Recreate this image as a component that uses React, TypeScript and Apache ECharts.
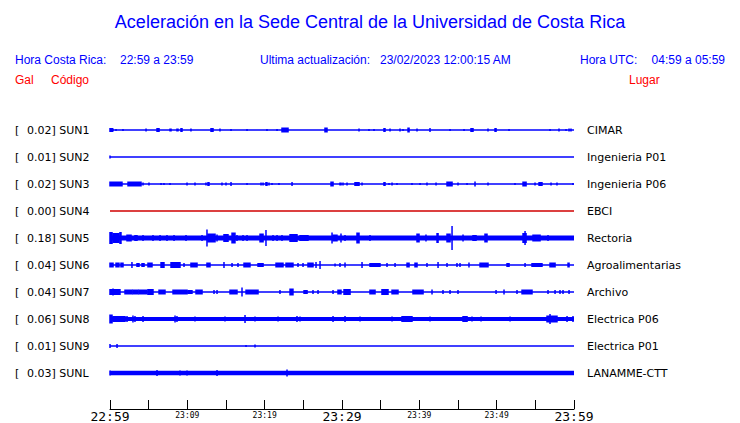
import React, { useEffect, useRef } from "react";
import * as echarts from "echarts";

// ---- data ----
const CODES = ["SUN1", "SUN2", "SUN3", "SUN4", "SUN5", "SUN6", "SUN7", "SUN8", "SUN9", "SUNL"];
const GAL = ["0.02", "0.01", "0.02", "0.00", "0.18", "0.04", "0.04", "0.06", "0.01", "0.03"];
const STATIONS = [
  "CIMAR", "Ingenieria P01", "Ingenieria P06", "EBCI", "Rectoria",
  "Agroalimentarias", "Archivo", "Electrica P06", "Electrica P01", "LANAMME-CTT",
];
const TIME_LABELS = ["22:59", "23:09", "23:19", "23:29", "23:39", "23:49", "23:59"];
const TITLE = "Aceleración en la Sede Central de la Universidad de Costa Rica";
const HORA_CR = "22:59 a 23:59";
const ULTIMA = "23/02/2023 12:00:15 AM";
const HORA_UTC = "04:59 a 05:59";

// bursts: [startMinute, endMinute, envelope amplitude]
const SUN1 = [[0,0.3,2],[0.39,0.39,1.5],[0.78,0.78,1],[1.68,1.68,1],[4.66,4.66,1.5],[6.08,6.34,2],[7.76,7.89,1.5],[8.66,8.79,1.5],[9.18,9.31,2],[10.47,10.47,1.5],[13.06,13.32,2],[14.22,14.22,1.5],[15.65,15.65,1],[17.72,17.72,1],[20.3,20.3,1],[21.6,21.6,1],[22.24,23.02,2.5],[27.8,28.06,2.5],[32.2,32.2,1.5],[33.49,33.49,1],[34.14,34.14,1],[35.43,35.56,2],[36.21,36.21,1.5],[37.5,37.5,1.5],[37.89,37.89,1],[38.54,38.67,2.5],[39.7,39.7,1.5],[41.38,41.38,2],[43.97,43.97,1],[45.78,45.78,1],[46.68,46.94,2],[48.88,48.88,1.5],[49.79,49.92,2],[51.6,51.6,1],[56.9,56.9,1],[58.06,58.06,1.5],[58.97,58.97,1],[59.36,59.36,1.5],[59.61,59.61,1.5]];
const SUN2 = [[0,0,1.5]];
const SUN3 = [[0,1.55,2.5],[2.33,4.01,2.5],[4.27,4.27,1.5],[5.04,5.04,1.5],[6.6,6.6,1],[6.98,6.98,1],[7.76,7.76,1],[9.96,9.96,1.5],[10.99,10.99,1.5],[12.41,12.41,1.5],[12.67,12.8,2],[14.48,14.48,1.5],[15.0,15.0,1.5],[15.65,15.65,2],[17.72,17.72,1],[19.53,19.53,1.5],[19.79,19.79,1.5],[20.17,20.3,2],[20.56,20.56,1.5],[20.95,20.95,1],[21.85,21.85,1],[23.54,23.54,2],[28.58,28.84,2.5],[29.74,29.87,1.5],[30.13,30.13,1.5],[30.65,30.65,1.5],[31.68,32.2,2],[32.59,32.59,1.5],[35.43,35.56,2],[36.08,36.08,1],[36.47,36.47,1.5],[37.11,37.11,1],[39.05,39.05,1],[40.09,40.09,1],[40.99,40.99,1.5],[42.16,42.16,1.5],[43.58,44.23,2.5],[45.0,45.0,1.5],[46.17,46.17,1],[47.2,47.2,2.5],[48.88,48.88,1.5],[52.37,52.37,1],[53.41,53.8,2.5],[54.96,54.96,1.5],[55.48,55.86,2],[57.03,57.03,1.5],[57.8,57.8,1.5],[59.87,59.87,1]];
const SUN4: number[][] = [];
const SUN5 = [[0,0.26,6],[0.39,1.16,5],[1.29,1.42,6],[2.2,2.72,3.5],[3.23,3.49,3],[4.27,4.27,3],[5.56,5.56,3],[6.47,6.47,3],[7.37,7.37,3],[8.28,8.28,3],[9.83,9.83,3],[11.9,11.9,3],[12.54,12.54,8.5],[12.67,13.58,4.5],[13.84,13.84,3.5],[14.74,15.26,4],[15.78,16.16,5.5],[16.42,16.42,3],[17.2,17.2,3],[17.72,17.72,3],[19.4,19.79,4.5],[20.17,20.17,8],[21.08,21.08,3],[21.6,21.6,3],[22.24,22.24,3],[23.28,24.18,4],[24.57,25.6,3],[28.71,28.71,5.5],[28.84,29.35,3.5],[29.87,29.87,4.5],[30.39,30.39,3],[31.94,32.2,5.5],[33.62,33.62,3],[39.7,39.96,4.5],[40.86,40.86,3.5],[42.29,42.42,5],[43.58,43.97,4.5],[44.23,44.23,12],[45.65,45.65,3.5],[46.94,47.33,3],[48.49,48.75,4.5],[53.41,53.8,5],[53.67,53.67,7],[54.7,55.61,3.5],[56.64,56.64,3]];
const SUN6 = [[0,0.39,2.5],[0.78,1.16,2.5],[1.42,1.68,2.5],[2.84,2.84,3],[3.49,3.75,2],[4.14,4.4,2],[4.91,5.43,2.5],[6.6,6.98,3],[7.89,9.05,3],[9.57,9.57,2],[10.47,11.25,2.5],[12.54,12.93,2.5],[14.74,14.74,3],[15.78,15.78,2],[16.55,16.55,2],[17.33,18.1,2.5],[19.14,19.79,2],[21.47,22.37,2.5],[22.76,23.66,2.5],[24.31,24.31,2],[24.96,24.96,2],[25.6,26.25,2.5],[26.64,26.64,3],[27.16,27.16,4],[29.1,29.1,1.5],[29.74,29.74,2],[30.39,30.39,2.5],[32.59,32.59,3],[33.62,34.91,2],[35.82,35.82,2],[36.86,36.86,2],[38.41,38.67,2.5],[39.44,39.7,2.5],[40.99,40.99,2],[42.42,42.42,3],[43.58,43.58,2],[44.87,44.87,2],[45.26,45.26,2],[46.42,46.42,2.5],[47.85,48.88,2.5],[51.34,51.6,2],[53.67,53.67,2],[54.57,55.86,2],[56.9,57.55,2.5],[59.23,59.36,2.5]];
const SUN7 = [[0,1.29,3],[0.39,0.39,3.5],[1.94,2.84,2.5],[2.97,3.62,2.5],[3.75,4.78,2.5],[4.91,5.56,3],[6.34,7.11,2.5],[8.15,9.96,2.5],[10.09,10.6,2],[11.12,11.9,2.5],[13.45,13.45,2],[13.84,13.84,2],[15.52,16.42,2.5],[17.07,17.07,4.5],[17.59,19.14,2.5],[21.98,21.98,2],[23.28,23.66,3.5],[25.09,25.48,2],[26.25,26.25,2],[26.9,26.9,2],[28.84,28.84,2],[29.48,29.87,2.5],[30.26,31.04,3],[33.62,34.27,2.5],[35.17,35.95,3],[36.47,37.24,2.5],[39.18,40.48,2.5],[41.64,41.64,2.5],[43.06,43.06,2],[43.97,43.97,2],[45.0,45.0,2],[49.92,49.92,2],[50.95,50.95,2.5],[52.63,52.63,2],[53.28,54.57,2.5],[56.64,56.64,2],[57.55,57.55,2],[58.19,58.19,2],[58.58,58.58,2],[59.36,59.36,2]];
const SUN8 = [[0,0.26,4.5],[0.39,1.94,3],[2.2,2.2,3],[2.97,2.97,3.5],[3.23,3.23,3],[4.27,4.27,3],[8.41,8.41,3.5],[8.66,8.66,3],[10.99,10.99,2.5],[14.87,14.87,2.5],[17.46,17.46,4],[18.75,18.75,2.5],[21.73,21.73,2.5],[24.18,24.18,3],[24.57,24.57,2.5],[28.84,28.84,3],[30.39,30.39,3],[32.33,32.33,2.5],[36.47,36.47,2.5],[37.76,39.05,3],[41.38,41.38,2.5],[45.65,46.17,3],[46.81,46.81,2.5],[47.98,47.98,2.5],[51.73,51.73,2.5],[56.51,57.8,3.5],[56.9,56.9,5],[59.1,59.1,3],[59.87,59.87,3]];
const SUN9 = [[0,0,2],[0.91,0.91,2],[17.59,17.59,1],[18.75,18.75,1.5]];
const SUNL = [[0,0,2.5],[6.08,6.08,3],[9.05,9.05,2.5],[9.96,9.96,2.5],[13.84,13.84,3],[22.89,22.89,3.5]];
const BURSTS = [SUN1, SUN2, SUN3, SUN4, SUN5, SUN6, SUN7, SUN8, SUN9, SUNL];

// ---- styles ----
const BLUE = "#0000ff";
const RED = "#ff0000";
const TRACE_COLORS = [BLUE, BLUE, BLUE, "#d00000", BLUE, BLUE, BLUE, BLUE, BLUE, BLUE];
const LINE_WIDTHS = [1.5, 1.5, 1.5, 1.3, 5, 1.5, 1.5, 4, 1.3, 4.5];
const SANS = "'Liberation Sans', Arial, sans-serif";
const DEJAVU = "'DejaVu Sans', sans-serif";
const MONO = "'DejaVu Sans Mono', monospace";
const AMP_TO_UNITS = 1 / 27; // one trace spacing = 27 envelope counts

export default function App() {
  const ref = useRef<HTMLDivElement>(null);
  useEffect(() => {
    if (!ref.current) return;
    const chart = echarts.init(ref.current, null, { renderer: "svg" });

    const lineSeries = CODES.map((code, i) => ({
      type: "line",
      name: code,
      data: [[0, i + 1], [60, i + 1]],
      symbol: "none",
      silent: true,
      lineStyle: { color: TRACE_COLORS[i], width: LINE_WIDTHS[i] },
      z: 2,
    }));

    const burstData: number[][] = [];
    BURSTS.forEach((arr, i) => arr.forEach((b) => burstData.push([b[0], b[1], b[2], i + 1])));

    const burstSeries = {
      type: "custom",
      clip: false,
      silent: true,
      z: 3,
      encode: { x: [0, 1], y: 3 },
      data: burstData,
      renderItem: (params: any, api: any) => {
        const s = api.value(0), e = api.value(1), a = api.value(2), t = api.value(3);
        const p1 = api.coord([s, t]);
        const p2 = api.coord([e, t]);
        const h = Math.abs(api.size([0, a * AMP_TO_UNITS])[1]);
        const w = Math.max(p2[0] - p1[0], 0) + 1.5;
        return {
          type: "rect",
          shape: { x: p1[0] - 0.75, y: p1[1] - h, width: w, height: 2 * h },
          style: { fill: TRACE_COLORS[t - 1] },
        };
      },
    };

    const yCommon = {
      type: "value",
      min: 0,
      max: 306 / 27,
      interval: 1,
      inverse: true,
      axisLine: { show: false },
      axisTick: { show: false },
      splitLine: { show: false },
    };

    const text = (t: string, x: number, y: number, fill: string, size: number, align = "left") => ({
      type: "text",
      x,
      y,
      silent: true,
      style: { text: t, fill, fontSize: size, fontFamily: SANS, textAlign: align, textVerticalAlign: "middle" },
    });

    chart.setOption({
      animation: false,
      backgroundColor: "#ffffff",
      grid: { left: 110, right: 166, top: 103, bottom: 14 },
      xAxis: {
        type: "value",
        position: "bottom",
        min: 0,
        max: 60,
        interval: 5,
        axisLine: { onZero: false, lineStyle: { color: "#000", width: 1 } },
        axisTick: { inside: true, length: 9, lineStyle: { color: "#000", width: 1 } },
        splitLine: { show: false },
        axisLabel: {
          margin: 1,
          formatter: (v: number) => {
            if (v % 10 !== 0) return "";
            const lab = TIME_LABELS[v / 10];
            return v % 30 === 0 ? `{big|${lab}}` : `{small|${lab}}`;
          },
          rich: {
            big: { fontSize: 13, fontFamily: MONO, color: "#000" },
            small: { fontSize: 8, fontFamily: MONO, color: "#000", padding: [1, 0, 0, 0] },
          },
        },
      },
      yAxis: [
        {
          ...yCommon,
          position: "left",
          axisLabel: {
            align: "left",
            margin: 95,
            formatter: (v: number) => {
              const i = Math.round(v) - 1;
              if (i < 0 || i >= CODES.length || Math.abs(v - Math.round(v)) > 1e-6) return "";
              return `{a|[}{b|${GAL[i]}] ${CODES[i]}}`;
            },
            rich: {
              a: { width: 12, fontSize: 11, fontFamily: DEJAVU, color: "#000" },
              b: { fontSize: 11, fontFamily: DEJAVU, color: "#000" },
            },
          },
        },
        {
          ...yCommon,
          position: "right",
          axisLabel: {
            align: "left",
            margin: 13,
            fontSize: 11,
            fontFamily: DEJAVU,
            color: "#000",
            formatter: (v: number) => {
              const i = Math.round(v) - 1;
              if (i < 0 || i >= STATIONS.length || Math.abs(v - Math.round(v)) > 1e-6) return "";
              return STATIONS[i];
            },
          },
        },
      ],
      series: [...lineSeries, burstSeries],
      graphic: [
        text(TITLE, 370, 22, BLUE, 18, "center"),
        text("Hora Costa Rica:", 15, 60, BLUE, 12),
        text(HORA_CR, 120, 60, BLUE, 12),
        text("Ultima actualización:", 260, 60, BLUE, 12),
        text(ULTIMA, 380, 60, BLUE, 12),
        text("Hora UTC:", 580, 60, BLUE, 12),
        text(HORA_UTC, 725, 60, BLUE, 12, "right"),
        text("Gal", 15, 80, RED, 12),
        text("Código", 37 + 14, 80, RED, 12),
        text("Lugar", 629, 80, RED, 12),
      ],
    });
    return () => chart.dispose();
  }, []);

  return (
    <div
      ref={ref}
      style={{ position: "fixed", left: 0, top: 0, width: 740, height: 423, background: "#fff" }}
    />
  );
}
